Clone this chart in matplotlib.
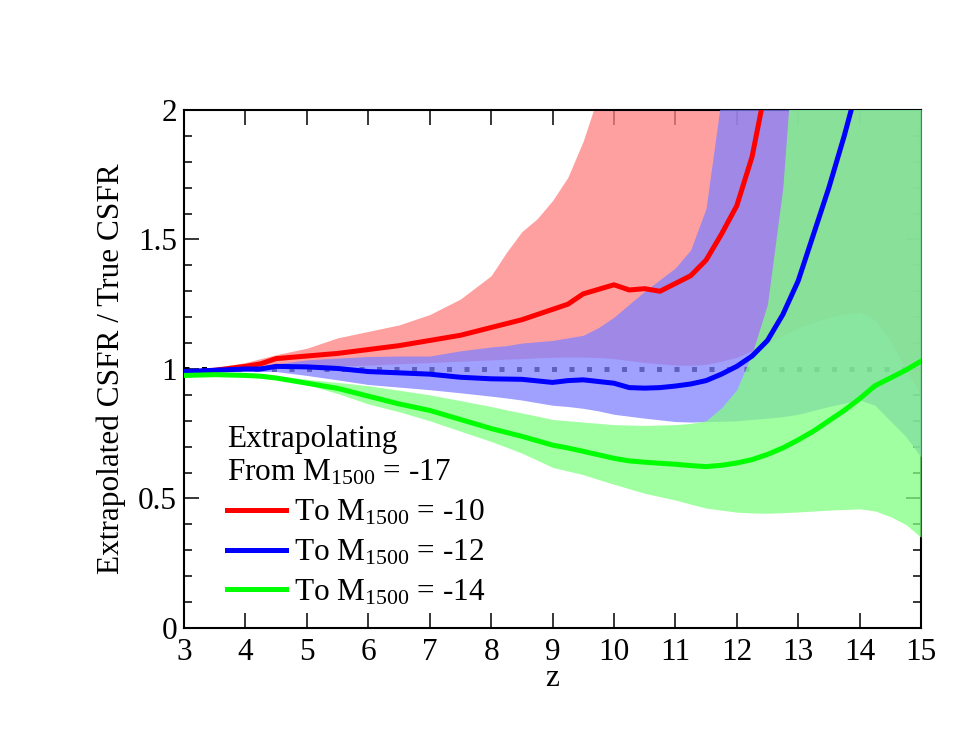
import matplotlib

matplotlib.use("Agg")
import matplotlib.pyplot as plt
from matplotlib.ticker import MultipleLocator, FuncFormatter

plt.rcParams["font.family"] = ["Liberation Serif", "DejaVu Serif"]
plt.rcParams["mathtext.fontset"] = "custom"
plt.rcParams["mathtext.rm"] = "Liberation Serif"
plt.rcParams["mathtext.it"] = "Liberation Serif:italic"

FS = 22.5

# ── central curves ──
z_line = [3, 3.5, 4, 4.25, 4.5, 5, 5.5, 6, 6.5, 7, 7.5, 8, 8.5, 9, 9.25, 9.5,
          10, 10.25, 10.5, 10.75, 11, 11.25, 11.5, 11.75, 12, 12.25, 12.5, 12.75,
          13, 13.25, 13.5, 13.75, 14, 14.25, 14.5, 14.75, 15]
red_line = [0.985, 0.995, 1.01, 1.02, 1.04, 1.05, 1.06, 1.075, 1.09, 1.11, 1.13, 1.16,
            1.19, 1.23, 1.25, 1.29, 1.325, 1.305, 1.31, 1.30, 1.33, 1.36, 1.42, 1.52,
            1.63, 1.82, 2.12, 2.6, 3.2, 3.8, 4.4, 5.0, 5.6, 6.2, 6.8, 7.4, 8.0]
blue_line = [0.99, 0.995, 1.0, 1.0, 1.01, 1.008, 1.002, 0.99, 0.985, 0.98, 0.968, 0.962,
             0.96, 0.948, 0.955, 0.958, 0.945, 0.928, 0.926, 0.928, 0.934, 0.942, 0.955,
             0.98, 1.01, 1.05, 1.11, 1.21, 1.34, 1.52, 1.70, 1.90, 2.12, 2.4, 2.7, 3.0, 3.3]
green_line = [0.975, 0.978, 0.975, 0.972, 0.965, 0.945, 0.925, 0.895, 0.865, 0.84, 0.805,
              0.77, 0.74, 0.706, 0.695, 0.682, 0.655, 0.645, 0.64, 0.636, 0.632, 0.627,
              0.623, 0.628, 0.637, 0.65, 0.67, 0.695, 0.726, 0.76, 0.80, 0.84, 0.885,
              0.935, 0.965, 0.995, 1.03]

# ── scatter bands ──
z_band = [3, 3.5, 4, 4.5, 5, 5.5, 6, 6.5, 7, 7.5, 8, 8.25, 8.5, 8.75, 9, 9.25, 9.5,
          9.75, 10, 10.5, 11, 11.25, 11.5, 11.75, 12, 12.25, 12.5, 12.75, 13, 13.5,
          14, 14.25, 14.5, 14.75, 15]
red_lo = [0.985, 0.99, 1.0, 1.005, 1.01, 1.012, 1.015, 1.02, 1.025, 1.03, 1.035, 1.038,
          1.04, 1.043, 1.045, 1.046, 1.046, 1.044, 1.04, 1.025, 1.015, 1.014, 1.018,
          1.03, 1.045, 1.07, 1.10, 1.13, 1.16, 1.20, 1.22, 1.19, 1.11, 1.00, 0.90]
red_hi = [0.99, 1.005, 1.025, 1.055, 1.08, 1.12, 1.145, 1.17, 1.21, 1.27, 1.36, 1.45,
          1.53, 1.58, 1.65, 1.74, 1.88, 2.06, 2.3, 2.6, 2.9, 3.0, 3.0, 3.0, 3.0, 3.0,
          3.0, 3.0, 3.0, 3.0, 3.0, 3.0, 3.0, 3.0, 3.0]
blue_lo = [0.985, 0.988, 0.99, 0.99, 0.975, 0.958, 0.94, 0.93, 0.92, 0.908, 0.895, 0.888,
           0.88, 0.87, 0.86, 0.855, 0.848, 0.838, 0.825, 0.81, 0.797, 0.795, 0.797,
           0.798, 0.80, 0.805, 0.81, 0.816, 0.825, 0.855, 0.88, 0.86, 0.80, 0.74, 0.66]
blue_hi = [0.99, 1.0, 1.005, 1.02, 1.035, 1.042, 1.048, 1.05, 1.05, 1.07, 1.085, 1.09,
           1.10, 1.105, 1.11, 1.12, 1.13, 1.16, 1.20, 1.30, 1.39, 1.46, 1.62, 2.05, 2.5,
           3.0, 3.0, 3.0, 3.0, 3.0, 3.0, 3.0, 3.0, 3.0, 3.0]
green_lo = [0.97, 0.972, 0.97, 0.96, 0.94, 0.905, 0.865, 0.835, 0.80, 0.76, 0.72, 0.698,
            0.675, 0.648, 0.62, 0.606, 0.592, 0.573, 0.555, 0.52, 0.494, 0.478, 0.463,
            0.455, 0.447, 0.444, 0.443, 0.445, 0.448, 0.455, 0.46, 0.452, 0.43, 0.40, 0.35]
green_hi = [0.98, 0.98, 0.978, 0.975, 0.96, 0.948, 0.935, 0.918, 0.90, 0.878, 0.855,
            0.842, 0.83, 0.818, 0.805, 0.80, 0.795, 0.79, 0.785, 0.782, 0.785, 0.79,
            0.80, 0.85, 0.92, 1.06, 1.25, 1.7, 2.5, 3.0, 3.0, 3.0, 3.0, 3.0, 3.0]

labels = ["To M$_{1500}$ = -10", "To M$_{1500}$ = -12", "To M$_{1500}$ = -14"]
legend_title = "Extrapolating\nFrom M$_{1500}$ = -17"

fig = plt.figure(figsize=(9.55, 7.38), dpi=100)
ax = fig.add_axes([0.1927, 0.1491, 0.7717, 0.7019])

ax.plot([3, 15], [1, 1], color="black", lw=3.6, ls=(0, (1, 2.5)), zorder=1)

ax.fill_between(z_band, red_lo, red_hi, color="#ff8080", alpha=0.75, lw=0, zorder=2)
ax.fill_between(z_band, blue_lo, blue_hi, color="#8080ff", alpha=0.75, lw=0, zorder=3)
ax.fill_between(z_band, green_lo, green_hi, color="#80ff80", alpha=0.75, lw=0, zorder=4)

h1, = ax.plot(z_line, red_line, color="#ff0000", lw=3.6, zorder=5)
h2, = ax.plot(z_line, blue_line, color="#0000ff", lw=3.6, zorder=6)
h3, = ax.plot(z_line, green_line, color="#00ff00", lw=3.6, zorder=7)

ax.set_xlim(3, 15)
ax.set_ylim(0, 2)
ax.xaxis.set_major_locator(MultipleLocator(1))
ax.yaxis.set_major_locator(MultipleLocator(0.5))
ax.yaxis.set_minor_locator(MultipleLocator(0.1))
ax.yaxis.set_major_formatter(FuncFormatter(lambda v, p: f"{v:g}"))
ax.tick_params(which="both", direction="in", top=True, right=True, width=1.1,
               labelsize=FS)
ax.tick_params(which="major", length=11)
ax.tick_params(which="minor", length=5.5)
ax.tick_params(axis="x", pad=7)
ax.tick_params(axis="y", pad=5)
for s in ax.spines.values():
    s.set_linewidth(1.5)

ax.set_xlabel("z", fontsize=FS, labelpad=-2)
ax.set_ylabel("Extrapolated CSFR / True CSFR", fontsize=FS, labelpad=9)

leg = ax.legend([h1, h2, h3], labels, title=legend_title, loc="upper left",
                bbox_to_anchor=(0.058, 0.392), frameon=False, fontsize=FS,
                title_fontsize=FS, alignment="left", handlelength=1.9,
                handletextpad=0.25, labelspacing=0.33, borderpad=0, borderaxespad=0)

fig.savefig("out.png", dpi=100)
